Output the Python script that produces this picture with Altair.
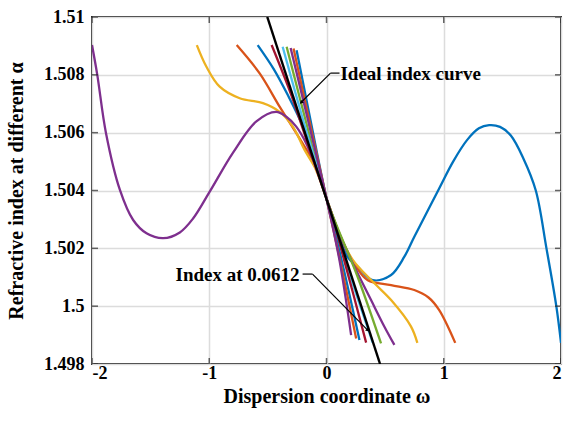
import altair as alt
import pandas as pd

X_TICKS = [-2, -1, 0, 1, 2]
Y_TICKS = [1.498, 1.5, 1.502, 1.504, 1.506, 1.508, 1.51]

# ---- curves (omega, index) ----
BLUE1_X = [-0.587, -0.45, -0.33, -0.2, -0.1, 0.0, 0.1, 0.18, 0.267, 0.394, 0.551, 0.664, 0.749, 0.962, 1.08, 1.2, 1.3, 1.387, 1.48, 1.572, 1.68, 1.785, 1.876, 1.96, 2.0]
BLUE1_Y = [1.50903, 1.5082, 1.5073, 1.5062, 1.5050, 1.50372, 1.5025, 1.5017, 1.50136, 1.50090, 1.50108, 1.50171, 1.50240, 1.50408, 1.5050, 1.50575, 1.50615, 1.50626, 1.50620, 1.50590, 1.50510, 1.50400, 1.50200, 1.50000, 1.49873]

ORANGE1_X = [-0.766, -0.57, -0.4, -0.23, -0.1, 0.0, 0.12, 0.253, 0.352, 0.551, 0.749, 0.87, 0.96, 1.098]
ORANGE1_Y = [1.50903, 1.50805, 1.5069, 1.5058, 1.5049, 1.50372, 1.5024, 1.50136, 1.5009, 1.50073, 1.50056, 1.5003, 1.49987, 1.49873]

YELLOW_X = [-1.106, -1.024, -0.911, -0.74, -0.542, -0.4, -0.287, -0.187, -0.1, 0.0, 0.1, 0.224, 0.409, 0.551, 0.72, 0.775]
YELLOW_Y = [1.50903, 1.50828, 1.50759, 1.50719, 1.50702, 1.50672, 1.50621, 1.5054, 1.5048, 1.50372, 1.5026, 1.5016, 1.50079, 1.50021, 1.4993, 1.49873]

PURPLE1_X = [-2.0, -1.955, -1.881, -1.762, -1.649, -1.535, -1.393, -1.251, -1.138, -0.996, -0.797, -0.598, -0.43, -0.343, -0.258, -0.173, -0.1, 0.0, 0.1, 0.238, 0.295, 0.38, 0.494, 0.579]
PURPLE1_Y = [1.50903, 1.50800, 1.50599, 1.50402, 1.50298, 1.50252, 1.50235, 1.50255, 1.50303, 1.50396, 1.50531, 1.50639, 1.50672, 1.50655, 1.50621, 1.50563, 1.5049, 1.50372, 1.5026, 1.50136, 1.5009, 1.50021, 1.49929, 1.49866]

DARKRED_X = [-0.468, -0.30, -0.15, 0.0, 0.15, 0.338]
DARKRED_Y = [1.50903, 1.5073, 1.5055, 1.50372, 1.5016, 1.49874]

LIGHTBLUE_X = [-0.374, -0.19, 0.0, 0.19, 0.394]
LIGHTBLUE_Y = [1.50897, 1.5063, 1.50372, 1.5012, 1.49874]

GREEN_X = [-0.34, -0.17, 0.0, 0.267, 0.465]
GREEN_Y = [1.50897, 1.5063, 1.50372, 1.5010, 1.49871]

PURPLE2_X = [-0.306, -0.15, 0.0, 0.11, 0.21]
PURPLE2_Y = [1.50893, 1.5063, 1.50372, 1.5016, 1.49900]

ORANGE2_X = [-0.281, -0.14, 0.0, 0.12, 0.253]
ORANGE2_Y = [1.50891, 1.5063, 1.50372, 1.5015, 1.49888]

BLUE2_X = [-0.255, -0.13, 0.0, 0.14, 0.281]
BLUE2_Y = [1.50885, 1.5063, 1.50372, 1.5014, 1.49883]

IDEAL_X = [-0.505, 0.457]
IDEAL_Y = [1.51, 1.498]

CURVES = [
    ("blue1", "#0072BD", BLUE1_X, BLUE1_Y),
    ("orange1", "#D95319", ORANGE1_X, ORANGE1_Y),
    ("yellow", "#EDB120", YELLOW_X, YELLOW_Y),
    ("purple1", "#7E2F8E", PURPLE1_X, PURPLE1_Y),
    ("green", "#77AC30", GREEN_X, GREEN_Y),
    ("lightblue", "#4DBEEE", LIGHTBLUE_X, LIGHTBLUE_Y),
    ("darkred", "#A2142F", DARKRED_X, DARKRED_Y),
    ("blue2", "#0072BD", BLUE2_X, BLUE2_Y),
    ("orange2", "#D95319", ORANGE2_X, ORANGE2_Y),
    ("purple2", "#7E2F8E", PURPLE2_X, PURPLE2_Y),
]

# annotations
ANN1_TEXT, ANN1_X, ANN1_Y = ["Ideal index curve"], [0.119], [1.50782]
ANN2_TEXT, ANN2_X, ANN2_Y = ["Index at 0.0612"], [-0.23], [1.50087]
# leader segments: (x, y, x2, y2)
SEG_X = [0.034, 0.034, -0.204, -0.119]
SEG_Y = [1.50806, 1.50806, 1.50111, 1.50111]
SEG_X2 = [0.111, -0.213, -0.119, 0.349]
SEG_Y2 = [1.50806, 1.50706, 1.50111, 1.49918]
HEAD_X = [-0.213, 0.349]
HEAD_Y = [1.50706, 1.49918]
HEAD_ANGLE = [225, 135]

FONT = "Liberation Serif"

rows = []
for name, color, xs, ys in CURVES:
    for i, (x, y) in enumerate(zip(xs, ys)):
        rows.append({"curve": name, "i": i, "x": x, "y": y})
df = pd.DataFrame(rows)

xscale = alt.Scale(domain=[-2, 2], nice=False, zero=False)
yscale = alt.Scale(domain=[1.498, 1.51], nice=False, zero=False)

xaxis = alt.Axis(values=X_TICKS, title="Dispersion coordinate ω", grid=True, ticks=False, domain=False,
                 labelExpr="datum.value < 0 ? '-' + abs(datum.value) : '' + datum.value",
                 labelPadding=0, titlePadding=4)
yaxis = alt.Axis(values=Y_TICKS, title="Refractive index at different α", grid=True, ticks=False, domain=False,
                 format="~g", labelPadding=8, titlePadding=17)

lines = alt.Chart(df).mark_line(strokeWidth=2.3, interpolate="catmull-rom", clip=True).encode(
    x=alt.X("x:Q", scale=xscale, axis=xaxis),
    y=alt.Y("y:Q", scale=yscale, axis=yaxis),
    color=alt.Color("curve:N", scale=alt.Scale(domain=[c[0] for c in CURVES], range=[c[1] for c in CURVES]), legend=None),
    order="i:Q",
)

ideal = alt.Chart(pd.DataFrame({"x": IDEAL_X, "y": IDEAL_Y})).mark_line(color="black", strokeWidth=2.4, clip=True).encode(
    x=alt.X("x:Q", scale=xscale), y=alt.Y("y:Q", scale=yscale)
)

segs = alt.Chart(pd.DataFrame({"x": SEG_X, "y": SEG_Y, "x2": SEG_X2, "y2": SEG_Y2})).mark_rule(color="black", strokeWidth=1.2).encode(
    x=alt.X("x:Q", scale=xscale), y=alt.Y("y:Q", scale=yscale), x2="x2:Q", y2="y2:Q"
)

heads = alt.Chart(pd.DataFrame({"x": HEAD_X, "y": HEAD_Y, "a": HEAD_ANGLE})).mark_point(
    shape="triangle", filled=True, size=18, color="black", opacity=1
).encode(x=alt.X("x:Q", scale=xscale), y=alt.Y("y:Q", scale=yscale), angle=alt.Angle("a:Q", scale=None))

text1 = alt.Chart(pd.DataFrame({"t": ANN1_TEXT, "x": ANN1_X, "y": ANN1_Y})).mark_text(
    font=FONT, fontSize=19, fontWeight="bold", baseline="alphabetic", align="left", color="black"
).encode(x=alt.X("x:Q", scale=xscale), y=alt.Y("y:Q", scale=yscale), text="t:N")
text2 = alt.Chart(pd.DataFrame({"t": ANN2_TEXT, "x": ANN2_X, "y": ANN2_Y})).mark_text(
    font=FONT, fontSize=19, fontWeight="bold", baseline="alphabetic", align="right", color="black"
).encode(x=alt.X("x:Q", scale=xscale), y=alt.Y("y:Q", scale=yscale), text="t:N")

# inward ticks on all four sides
tb = pd.DataFrame({"x": X_TICKS * 2, "y": [1.498] * 5 + [1.51] * 5})
lr = pd.DataFrame({"x": [-2] * 7 + [2] * 7, "y": Y_TICKS * 2})
xt = alt.Chart(tb).mark_tick(orient="vertical", size=12, thickness=1.5, color="#262626", clip=True).encode(
    x=alt.X("x:Q", scale=xscale), y=alt.Y("y:Q", scale=yscale))
yt = alt.Chart(lr).mark_tick(orient="horizontal", size=12, thickness=1.5, color="#262626", clip=True).encode(
    x=alt.X("x:Q", scale=xscale), y=alt.Y("y:Q", scale=yscale))

chart = alt.layer(lines, ideal, segs, heads, text1, text2, xt, yt).properties(
    width=469, height=347,
    autosize=alt.AutoSizeParams(type="none"),
    padding={"left": 92, "top": 17, "right": 4, "bottom": 60},
    background="white",
).configure_view(stroke="#262626", strokeWidth=2).configure_axis(
    labelFont=FONT, labelFontSize=18, labelFontWeight="bold", labelColor="black",
    titleFont=FONT, titleFontSize=20, titleFontWeight="bold", titleColor="black",
    gridColor="#dcdcdc", gridWidth=1.5,
)

chart.save("out.html", embed_options={"renderer": "svg", "actions": False})
